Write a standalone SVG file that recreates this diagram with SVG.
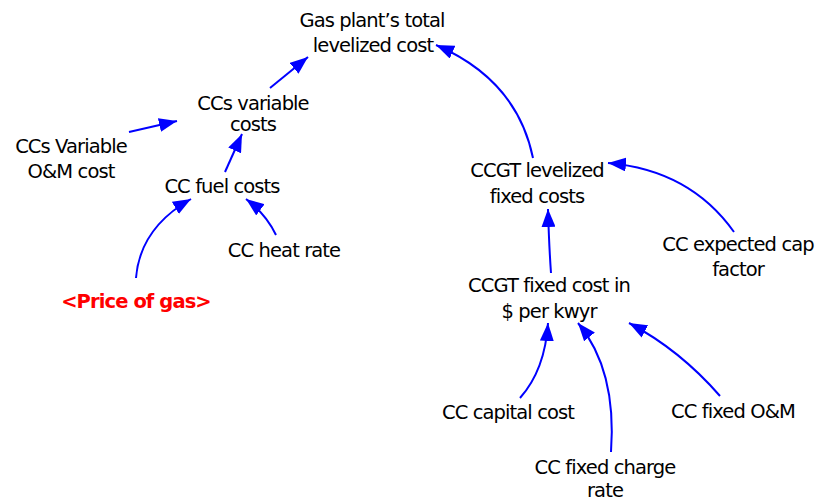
<svg xmlns="http://www.w3.org/2000/svg" width="827" height="501" viewBox="0 0 827 501">
<style>
text{font-family:"DejaVu Sans","Liberation Sans",sans-serif;font-size:19.5px;fill:#000;text-anchor:middle;letter-spacing:-0.9px}
.red{fill:#ff0000;font-weight:bold}
.c{fill:none;stroke:#0000ff;stroke-width:2}
</style>
<defs>
<marker id="ah" markerUnits="userSpaceOnUse" markerWidth="20" markerHeight="14" refX="18" refY="7" orient="auto">
<path d="M0,0 L18,7 L0,14 Z" fill="#0000ff"/>
</marker>
</defs>
<rect width="827" height="501" fill="#fff"/>
<g id="connectors">
<path class="c" marker-end="url(#ah)" d="M270,88 L308,57"/>
<path class="c" marker-end="url(#ah)" d="M129,132 L177,121"/>
<path class="c" marker-end="url(#ah)" d="M225,172 L242,134"/>
<path class="c" marker-end="url(#ah)" d="M136,278 Q140,228 191,199"/>
<path class="c" marker-end="url(#ah)" d="M276,235 Q266,214 246,199"/>
<path class="c" marker-end="url(#ah)" d="M533,158 Q517,80 436,45"/>
<path class="c" marker-end="url(#ah)" d="M734,232 Q690,170 608,163"/>
<path class="c" marker-end="url(#ah)" d="M551,273 Q549,245 548,209"/>
<path class="c" marker-end="url(#ah)" d="M520,398 Q545,370 548,323"/>
<path class="c" marker-end="url(#ah)" d="M611,452 Q617,370 578,323"/>
<path class="c" marker-end="url(#ah)" d="M720,396 Q680,350 629,323"/>
</g>
<g id="gas_total"><text x="372" y="27">Gas plant’s total</text><text x="373" y="52">levelized cost</text></g>
<g id="ccs_variable_costs"><text x="253" y="110">CCs variable</text><text x="253" y="131">costs</text></g>
<g id="ccs_variable_om"><text x="71" y="153">CCs Variable</text><text x="71" y="178">O&amp;M cost</text></g>
<g id="cc_fuel_costs"><text x="222" y="193">CC fuel costs</text></g>
<g id="cc_heat_rate"><text x="284" y="257">CC heat rate</text></g>
<g id="price_of_gas"><text class="red" x="136" y="308">&lt;Price of gas&gt;</text></g>
<g id="ccgt_levelized"><text x="537" y="177">CCGT levelized</text><text x="537" y="203">fixed costs</text></g>
<g id="cc_expected_cap"><text x="738" y="251">CC expected cap</text><text x="738" y="276">factor</text></g>
<g id="ccgt_fixed_cost"><text x="549" y="292">CCGT fixed cost in</text><text x="549" y="318">$ per kwyr</text></g>
<g id="cc_capital_cost"><text x="508" y="419">CC capital cost</text></g>
<g id="cc_fixed_om"><text x="733" y="418">CC fixed O&amp;M</text></g>
<g id="cc_fixed_charge"><text x="605" y="474">CC fixed charge</text><text x="605" y="497">rate</text></g>
</svg>
